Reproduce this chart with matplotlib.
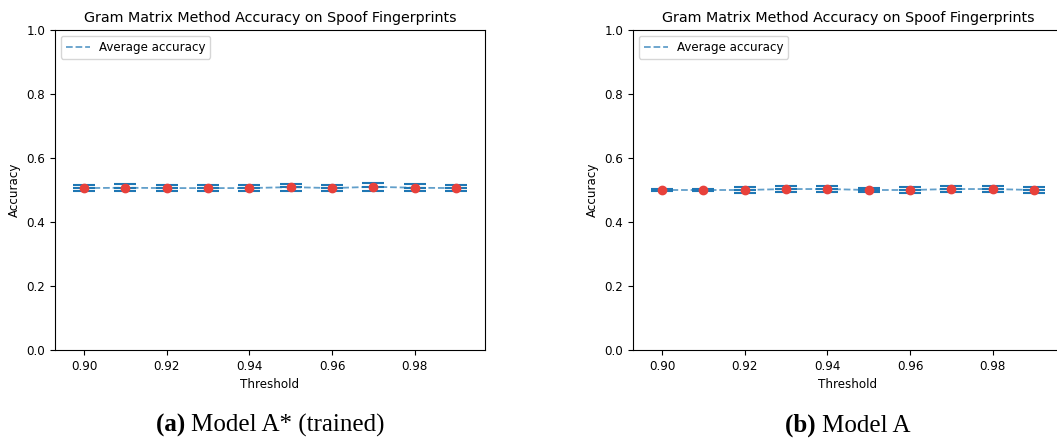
import matplotlib
matplotlib.use("Agg")
import matplotlib.pyplot as plt

thresholds = [0.90, 0.91, 0.92, 0.93, 0.94, 0.95, 0.96, 0.97, 0.98, 0.99]

# model A* (trained)
acc_a = [0.506, 0.507, 0.506, 0.506, 0.506, 0.509, 0.506, 0.510, 0.507, 0.506]
err_a = [0.009, 0.011, 0.009, 0.010, 0.010, 0.011, 0.009, 0.0125, 0.011, 0.010]

# model A
acc_b = [0.500, 0.500, 0.500, 0.503, 0.503, 0.500, 0.500, 0.503, 0.503, 0.500]
err_b = [0.002, 0.004, 0.009, 0.009, 0.009, 0.005, 0.008, 0.008, 0.008, 0.009]

captions = [("(a)", "Model A* (trained)"), ("(b)", "Model A")]

W, H = 1057, 445
fs = 8.6
fig = plt.figure(figsize=(W / 100, H / 100), dpi=100)
fig.canvas.draw()
r = fig.canvas.get_renderer()

for left, acc, err, cap in [(55, acc_a, err_a, captions[0]), (633, acc_b, err_b, captions[1])]:
    ax = fig.add_axes([left / W, (H - 350) / H, 430 / W, 320 / H])
    ax.errorbar(thresholds, acc, yerr=err, fmt='_', color='#1f77b4', markersize=16,
                markeredgewidth=1.5, capsize=8, capthick=1.5, elinewidth=1)
    ax.plot(thresholds, acc, '--', color='#1f77b4', alpha=0.7, lw=1.3, label='Average accuracy')
    ax.plot(thresholds, acc, 'o', color='#e8413b', markersize=6, zorder=5)
    ax.set_xlim(0.893, 0.997)
    ax.set_ylim(0, 1.0)
    ax.set_xticks([0.90, 0.92, 0.94, 0.96, 0.98])
    ax.tick_params(labelsize=fs)
    ax.set_title('Gram Matrix Method Accuracy on Spoof Fingerprints', fontsize=10.3)
    ax.set_xlabel('Threshold', fontsize=fs)
    ax.set_ylabel('Accuracy', fontsize=fs)
    ax.legend(loc='upper left', fontsize=fs)
    # caption: bold label + regular text, centred under the axes
    tb = fig.text(0, 0, cap[0] + ' ', fontsize=18, family='Liberation Serif', weight='bold')
    tr = fig.text(0, 0, cap[1], fontsize=18, family='Liberation Serif')
    wb = tb.get_window_extent(r).width
    wr = tr.get_window_extent(r).width
    x0 = left + 215 - (wb + wr) / 2
    tb.set_position((x0 / W, 13 / H))
    tr.set_position(((x0 + wb) / W, 13 / H))

fig.savefig('out.png', dpi=100)
